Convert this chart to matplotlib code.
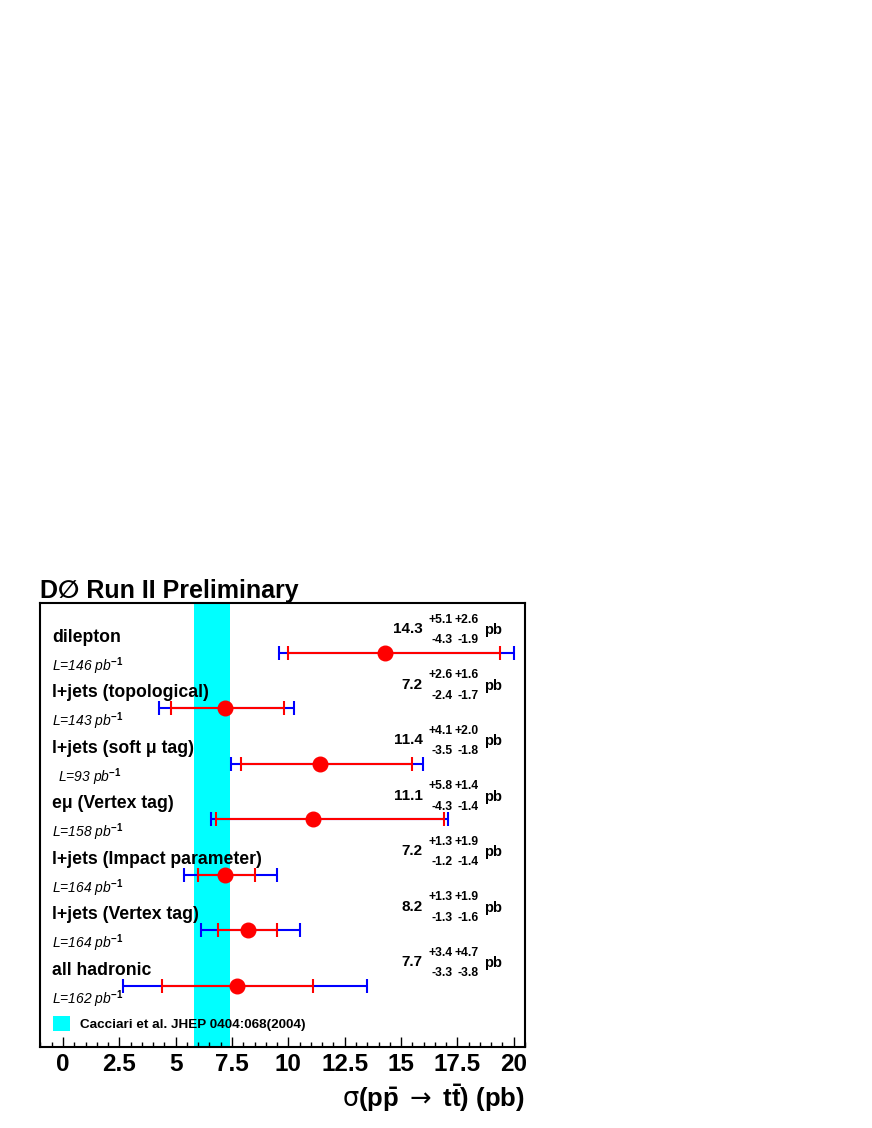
import matplotlib
matplotlib.use('Agg')
import matplotlib.pyplot as plt
import numpy as np
from matplotlib.ticker import FixedLocator, MultipleLocator
from matplotlib.patches import Patch

plt.rcParams['font.family'] = ['Liberation Sans', 'DejaVu Sans']
plt.rcParams['mathtext.fontset'] = 'custom'
plt.rcParams['mathtext.rm'] = 'Liberation Sans:bold'
plt.rcParams['mathtext.bf'] = 'Liberation Sans:bold'
plt.rcParams['mathtext.it'] = 'Liberation Sans:italic'
plt.rcParams['mathtext.sf'] = 'DejaVu Sans'

# ---------------- data ----------------
channels = ["dilepton", "l+jets (topological)", "l+jets (soft μ tag)",
            "eμ (Vertex tag)", "l+jets (Impact parameter)",
            "l+jets (Vertex tag)", "all hadronic"]
lumi = [146, 143, 93, 158, 164, 164, 162]
xsec = [14.3, 7.2, 11.4, 11.1, 7.2, 8.2, 7.7]
stat_up = [5.1, 2.6, 4.1, 5.8, 1.3, 1.3, 3.4]
stat_dn = [4.3, 2.4, 3.5, 4.3, 1.2, 1.3, 3.3]
syst_up = [2.6, 1.6, 2.0, 1.4, 1.9, 1.9, 4.7]
syst_dn = [1.9, 1.7, 1.8, 1.4, 1.4, 1.6, 3.8]
theory_lo, theory_hi = 5.8, 7.4
theory_label = "Cacciari et al. JHEP 0404:068(2004)"
xticks = [0, 2.5, 5, 7.5, 10, 12.5, 15, 17.5, 20]
xtick_labels = ["0", "2.5", "5", "7.5", "10", "12.5", "15", "17.5", "20"]

tot_up = np.sqrt(np.array(stat_up)**2 + np.array(syst_up)**2)
tot_dn = np.sqrt(np.array(stat_dn)**2 + np.array(syst_dn)**2)
rows = np.arange(len(channels))

# ---------------- figure ----------------
W, H = 872, 1128
fig = plt.figure(figsize=(W/100, H/100), dpi=100)
ax = fig.add_axes([40/W, 1-1047/H, 485/W, 444/H])
ax.set_xlim(-1.02, 20.5)
ax.set_ylim(7.1, -0.9)

ax.axvspan(theory_lo, theory_hi, color='#00ffff', lw=0, zorder=0)

ax.errorbar(xsec, rows, xerr=[tot_dn, tot_up], fmt='none', ecolor='#0000ff',
            elinewidth=1.5, capsize=4.8, capthick=1.5, zorder=2)
ax.errorbar(xsec, rows, xerr=[stat_dn, stat_up], fmt='o', color='#ff0000',
            ms=10.5, ecolor='#ff0000', elinewidth=1.5, capsize=4.8,
            capthick=1.5, zorder=3)

for i, r in enumerate(rows):
    ax.text(-0.49, r - 0.28, channels[i], fontsize=12.7, fontweight='bold',
            ha='left', va='center')
    lx = -0.22 if lumi[i] < 100 else -0.49
    ax.text(lx, r + 0.23, f"L={lumi[i]} pb" + r"$^{\mathit{-1}}$",
            fontsize=10, style='italic', ha='left', va='center')
    ax.text(15.96, r - 0.43, f"{xsec[i]:.1f}", fontsize=11, fontweight='bold',
            ha='right', va='center')
    ax.text(17.29, r - 0.60, f"+{stat_up[i]:.1f}", fontsize=8.7,
            fontweight='bold', ha='right', va='center')
    ax.text(18.45, r - 0.60, f"+{syst_up[i]:.1f}", fontsize=8.7,
            fontweight='bold', ha='right', va='center')
    ax.text(17.29, r - 0.23, f"-{stat_dn[i]:.1f}", fontsize=8.7,
            fontweight='bold', ha='right', va='center')
    ax.text(18.45, r - 0.23, f"-{syst_dn[i]:.1f}", fontsize=8.7,
            fontweight='bold', ha='right', va='center')
    ax.text(18.67, r - 0.41, "pb", fontsize=10.5, fontweight='bold',
            ha='left', va='center')

leg = ax.legend(handles=[Patch(facecolor='#00ffff', edgecolor='none')],
                labels=[theory_label], loc='lower left',
                bbox_to_anchor=(0.027, 0.036), frameon=False, borderpad=0,
                borderaxespad=0, handlelength=1.26, handleheight=1.26,
                handletextpad=0.74, prop={'weight': 'bold', 'size': 9.7})

ax.xaxis.set_major_locator(FixedLocator(xticks))
ax.set_xticklabels(xtick_labels, fontsize=17.5, fontweight='bold')
ax.xaxis.set_minor_locator(MultipleLocator(0.5))
ax.tick_params(axis='x', which='major', direction='in', length=7.2, width=1,
               pad=4, top=False)
ax.tick_params(axis='x', which='minor', direction='in', length=3.6, width=1,
               top=False)
ax.set_yticks([])
for s in ax.spines.values():
    s.set_linewidth(1.5)

fig.text(40/W, 1-598/H, "D∅ Run II Preliminary", fontsize=18,
         fontweight='bold', ha='left', va='baseline')
fig.text(525/W, 1-1098/H,
         r"$\mathsf{\sigma}\mathrm{(p\bar{p}}\ \mathsf{\rightarrow}\ \mathrm{t\bar{t})}$ (pb)",
         fontsize=18.5, fontweight='bold', ha='right', va='center')

fig.savefig('out.png', dpi=100)
